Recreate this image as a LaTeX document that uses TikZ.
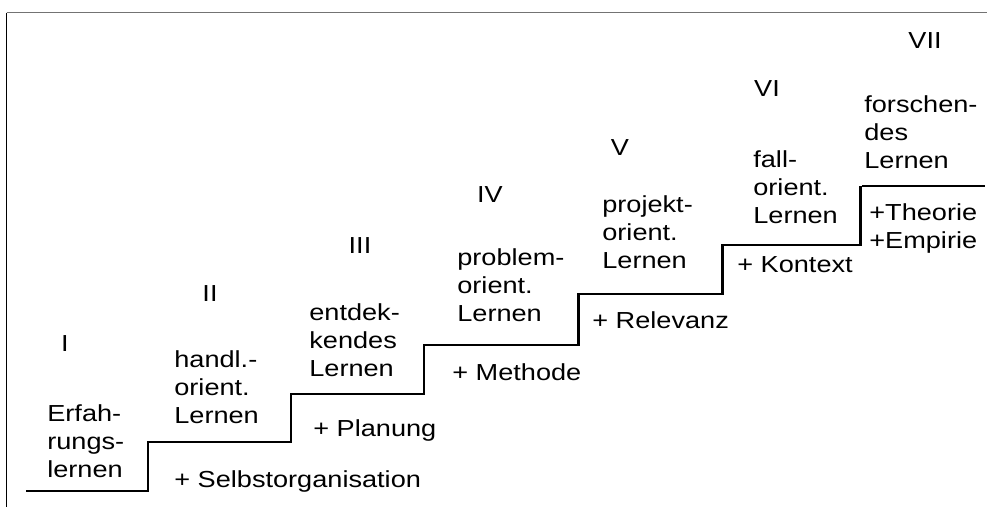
\documentclass[tikz,border=0pt]{standalone}
\usepackage{fontspec}
\setmainfont{Liberation Sans}[FakeStretch=1.17]
\usetikzlibrary{positioning}
\definecolor{framegray}{gray}{0.45}

\begin{document}
\begin{tikzpicture}[x=0.02cm, y=-0.02cm,
	txt/.style={anchor=base west, inner sep=0pt, align=left, font=\fontsize{13.2}{15.9}\selectfont},
	num/.style={anchor=base, inner sep=0pt, font=\fontsize{13.2}{15.9}\selectfont}]
	\def\lw{1.7pt}
	\useasboundingbox (0,0) rectangle (987,507);

	% frame
	\draw[framegray, line width=0.7pt]	(6.5,12.5) -- (987,12.5);
	\draw[black, line width=0.7pt]		(6.5,12.5) -- (6.5,507);

	% staircase
	\draw[line width=\lw]	(26,491) -| (148,442) -| (291,394) -| (424,345) -| (578,294) -| (722,245) -| (860,186);
	\draw[line width=\lw]	(862,186) -- (985,186);

	% levels
	\node[num] (n1) at (65,351)	{I};
	\node[num] (n2) at (210,301)	{II};
	\node[num] (n3) at (360,253)	{III};
	\node[num] (n4) at (490,202)	{IV};
	\node[num] (n5) at (620,155)	{V};
	\node[num] (n6) at (767,96)	{VI};
	\node[num] (n7) at (925,49)	{VII};

	% forms of learning (base = last line)
	\node[txt] (erf) at (47,477)	{Erfah-\\rungs-\\lernen};
	\node[txt] (hand) at (174,423)	{handl.-\\orient.\\Lernen};
	\node[txt] (entd) at (309,376)	{entdek-\\kendes\\Lernen};
	\node[txt] (prob) at (457,321)	{problem-\\orient.\\Lernen};
	\node[txt] (proj) at (602,268)	{projekt-\\orient.\\Lernen};
	\node[txt] (fall) at (753,223)	{fall-\\orient.\\Lernen};
	\node[txt] (fors) at (864,168)	{forschen-\\des\\Lernen};

	% additions
	\node[txt] (selbst) at (174,487)	{+ Selbstorganisation};
	\node[txt] (plan) at (313,436)	{+ Planung};
	\node[txt] (meth) at (452,380)	{+ Methode};
	\node[txt] (rel) at (592,328)	{+ Relevanz};
	\node[txt] (kont) at (737,272)	{+ Kontext};
	\node[txt] (theo) at (869,248)	{+Theorie\\+Empirie};
\end{tikzpicture}
\end{document}
